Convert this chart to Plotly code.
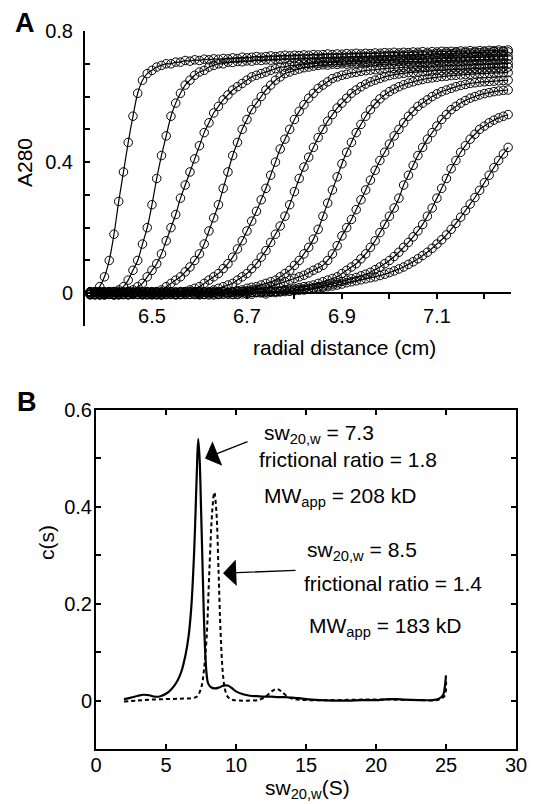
import plotly.graph_objects as go

# page is 535x804; the browser puts the figure 8px in from the top-left corner
PAGE_OFF = 8
W, H = 535 - PAGE_OFF, 804 - PAGE_OFF

# ---- panel A : absorbance scans (A280 vs radius) ----
radius_cm = [
    6.37, 6.38, 6.39, 6.40, 6.41, 6.42, 6.43, 6.44, 6.45, 6.46,
    6.47, 6.48, 6.49, 6.50, 6.51, 6.52, 6.53, 6.54, 6.55, 6.56,
    6.57, 6.58, 6.59, 6.60, 6.61, 6.62, 6.63, 6.64, 6.65, 6.66,
    6.67, 6.68, 6.69, 6.70, 6.71, 6.72, 6.73, 6.74, 6.75, 6.76,
    6.77, 6.78, 6.79, 6.80, 6.81, 6.82, 6.83, 6.84, 6.85, 6.86,
    6.87, 6.88, 6.89, 6.90, 6.91, 6.92, 6.93, 6.94, 6.95, 6.96,
    6.97, 6.98, 6.99, 7.00, 7.01, 7.02, 7.03, 7.04, 7.05, 7.06,
    7.07, 7.08, 7.09, 7.10, 7.11, 7.12, 7.13, 7.14, 7.15, 7.16,
    7.17, 7.18, 7.19, 7.20, 7.21, 7.22, 7.23, 7.24, 7.25,
]

scan_01 = [
    0.004, -0.003, 0.02, 0.05, 0.10, 0.18, 0.28, 0.37, 0.46, 0.54,
    0.61, 0.65, 0.67, 0.68, 0.69, 0.695, 0.70, 0.70, 0.705, 0.705,
    0.71, 0.708, 0.712, 0.71, 0.714, 0.712, 0.715, 0.714, 0.716, 0.715,
    0.718, 0.716, 0.72, 0.718, 0.72, 0.722, 0.72, 0.722, 0.724, 0.722,
    0.724, 0.726, 0.724, 0.726, 0.725, 0.727, 0.726, 0.728, 0.727, 0.728,
    0.73, 0.728, 0.73, 0.729, 0.731, 0.73, 0.732, 0.73, 0.732, 0.731,
    0.733, 0.732, 0.734, 0.733, 0.735, 0.733, 0.735, 0.734, 0.736, 0.735,
    0.737, 0.735, 0.737, 0.736, 0.738, 0.737, 0.738, 0.737, 0.739, 0.738,
    0.74, 0.738, 0.74, 0.739, 0.741, 0.74, 0.742, 0.74, 0.742,
]
scan_02 = [
    0.002, -0.004, 0.005, -0.002, 0.003, -0.005, 0.01, 0.02, 0.04, 0.07,
    0.10, 0.15, 0.20, 0.27, 0.35, 0.42, 0.48, 0.54, 0.58, 0.61,
    0.635, 0.65, 0.665, 0.675, 0.68, 0.69, 0.695, 0.70, 0.70, 0.705,
    0.704, 0.707, 0.706, 0.709, 0.708, 0.711, 0.71, 0.712, 0.711, 0.714,
    0.713, 0.715, 0.714, 0.716, 0.715, 0.717, 0.716, 0.718, 0.717, 0.719,
    0.718, 0.72, 0.719, 0.721, 0.72, 0.722, 0.721, 0.723, 0.722, 0.724,
    0.723, 0.725, 0.724, 0.726, 0.725, 0.727, 0.726, 0.728, 0.727, 0.729,
    0.728, 0.73, 0.729, 0.731, 0.73, 0.732, 0.731, 0.733, 0.732, 0.734,
    0.733, 0.735, 0.734, 0.736, 0.735, 0.737, 0.736, 0.737, 0.736,
]
scan_03 = [
    -0.003, 0.004, -0.005, 0.002, -0.002, 0.005, -0.004, 0.003, 0.006, 0.01,
    0.02, 0.03, 0.05, 0.07, 0.09, 0.12, 0.16, 0.20, 0.24, 0.29,
    0.33, 0.37, 0.41, 0.45, 0.49, 0.52, 0.55, 0.57, 0.59, 0.605,
    0.62, 0.63, 0.64, 0.65, 0.66, 0.665, 0.67, 0.675, 0.68, 0.685,
    0.69, 0.69, 0.695, 0.695, 0.698, 0.70, 0.699, 0.702, 0.701, 0.704,
    0.703, 0.705, 0.704, 0.706, 0.705, 0.707, 0.706, 0.708, 0.707, 0.709,
    0.708, 0.71, 0.709, 0.711, 0.71, 0.712, 0.711, 0.713, 0.712, 0.714,
    0.713, 0.715, 0.714, 0.716, 0.715, 0.717, 0.716, 0.718, 0.717, 0.719,
    0.718, 0.72, 0.719, 0.721, 0.72, 0.722, 0.721, 0.723, 0.722,
]
scan_04 = [
    0.005, -0.002, 0.003, -0.005, 0.004, -0.003, 0.002, -0.004, 0.005, -0.002,
    0.003, -0.003, 0.004, 0.002, 0.005, 0.01, 0.02, 0.03, 0.04, 0.05,
    0.065, 0.08, 0.10, 0.12, 0.15, 0.19, 0.23, 0.27, 0.32, 0.37,
    0.42, 0.46, 0.50, 0.53, 0.56, 0.58, 0.60, 0.62, 0.635, 0.65,
    0.66, 0.67, 0.675, 0.68, 0.684, 0.688, 0.69, 0.693, 0.695, 0.697,
    0.696, 0.699, 0.698, 0.70, 0.699, 0.702, 0.701, 0.703, 0.702, 0.704,
    0.703, 0.705, 0.704, 0.706, 0.705, 0.707, 0.706, 0.707, 0.706, 0.708,
    0.707, 0.709, 0.708, 0.71, 0.709, 0.711, 0.71, 0.712, 0.711, 0.712,
    0.711, 0.713, 0.712, 0.714, 0.713, 0.715, 0.714, 0.715, 0.714,
]
scan_05 = [
    -0.004, 0.003, -0.002, 0.005, -0.003, 0.002, -0.005, 0.004, -0.002, 0.003,
    -0.004, 0.005, -0.003, 0.002, -0.005, 0.004, -0.002, 0.003, -0.003, 0.004,
    0.005, 0.01, 0.015, 0.02, 0.03, 0.04, 0.05, 0.06, 0.075, 0.09,
    0.11, 0.135, 0.16, 0.19, 0.22, 0.25, 0.285, 0.32, 0.36, 0.40,
    0.44, 0.47, 0.50, 0.53, 0.555, 0.575, 0.595, 0.61, 0.625, 0.635,
    0.645, 0.655, 0.66, 0.665, 0.668, 0.672, 0.674, 0.677, 0.679, 0.681,
    0.682, 0.684, 0.685, 0.687, 0.686, 0.688, 0.689, 0.69, 0.69, 0.692,
    0.691, 0.693, 0.692, 0.694, 0.693, 0.695, 0.694, 0.696, 0.695, 0.697,
    0.696, 0.698, 0.697, 0.699, 0.698, 0.70, 0.699, 0.701, 0.70,
]
scan_06 = [
    0.003, -0.005, 0.004, -0.002, 0.002, -0.004, 0.005, -0.003, 0.003, -0.002,
    0.004, -0.005, 0.002, -0.003, 0.005, -0.002, 0.003, -0.004, 0.004, -0.003,
    0.002, -0.004, 0.005, -0.002, 0.003, 0.005, 0.01, 0.015, 0.02, 0.025,
    0.03, 0.04, 0.05, 0.06, 0.075, 0.09, 0.11, 0.13, 0.155, 0.18,
    0.205, 0.235, 0.27, 0.31, 0.35, 0.385, 0.415, 0.445, 0.475, 0.50,
    0.525, 0.545, 0.565, 0.58, 0.595, 0.61, 0.62, 0.63, 0.638, 0.645,
    0.65, 0.655, 0.66, 0.664, 0.667, 0.669, 0.671, 0.673, 0.674, 0.675,
    0.676, 0.677, 0.678, 0.68, 0.679, 0.681, 0.682, 0.683, 0.683, 0.684,
    0.685, 0.686, 0.686, 0.687, 0.688, 0.688, 0.689, 0.69, 0.69,
]
scan_07 = [
    -0.002, 0.004, -0.005, 0.003, -0.003, 0.005, -0.002, 0.002, -0.004, 0.004,
    -0.003, 0.002, -0.005, 0.004, -0.002, 0.003, -0.004, 0.005, -0.003, 0.002,
    -0.004, 0.003, -0.002, 0.004, -0.003, 0.002, 0.005, -0.002, 0.004, 0.003,
    0.005, 0.008, 0.01, 0.015, 0.018, 0.02, 0.025, 0.03, 0.035, 0.04,
    0.05, 0.06, 0.07, 0.085, 0.10, 0.12, 0.14, 0.165, 0.195, 0.235,
    0.275, 0.315, 0.355, 0.395, 0.43, 0.46, 0.49, 0.515, 0.54, 0.56,
    0.578, 0.593, 0.605, 0.615, 0.623, 0.63, 0.636, 0.641, 0.645, 0.649,
    0.652, 0.655, 0.657, 0.659, 0.661, 0.662, 0.664, 0.665, 0.666, 0.667,
    0.668, 0.669, 0.67, 0.67, 0.671, 0.672, 0.672, 0.673, 0.673,
]
scan_08 = [
    0.004, -0.003, 0.002, -0.005, 0.005, -0.002, 0.003, -0.004, 0.002, -0.003,
    0.005, -0.002, 0.004, -0.004, 0.003, -0.005, 0.002, 0.004, -0.003, 0.005,
    -0.002, 0.003, -0.004, 0.005, -0.003, 0.002, -0.005, 0.004, -0.002, 0.003,
    -0.003, 0.005, 0.005, 0.007, 0.01, 0.012, 0.015, 0.017, 0.02, 0.025,
    0.03, 0.035, 0.04, 0.045, 0.05, 0.055, 0.062, 0.07, 0.077, 0.085,
    0.10, 0.12, 0.145, 0.175, 0.20, 0.225, 0.255, 0.285, 0.315, 0.345,
    0.375, 0.405, 0.43, 0.455, 0.48, 0.50, 0.52, 0.54, 0.555, 0.57,
    0.58, 0.59, 0.60, 0.608, 0.615, 0.62, 0.625, 0.63, 0.634, 0.637,
    0.64, 0.642, 0.644, 0.645, 0.646, 0.647, 0.648, 0.649, 0.65,
]
scan_09 = [
    -0.005, 0.003, -0.002, 0.004, -0.003, 0.005, -0.004, 0.002, 0.004, -0.002,
    0.003, -0.004, 0.005, -0.003, 0.002, -0.005, 0.004, -0.002, 0.003, -0.004,
    0.005, -0.003, 0.002, -0.005, 0.004, -0.002, 0.003, -0.004, 0.005, -0.003,
    0.002, -0.004, 0.004, -0.002, 0.003, 0.002, 0.005, 0.003, 0.006, 0.005,
    0.008, 0.01, 0.012, 0.015, 0.017, 0.02, 0.022, 0.025, 0.03, 0.035,
    0.04, 0.045, 0.05, 0.06, 0.07, 0.08, 0.09, 0.105, 0.12, 0.14,
    0.16, 0.185, 0.21, 0.235, 0.26, 0.29, 0.33, 0.36, 0.39, 0.42,
    0.445, 0.47, 0.49, 0.51, 0.53, 0.545, 0.56, 0.57, 0.58, 0.588,
    0.595, 0.60, 0.605, 0.609, 0.612, 0.615, 0.617, 0.619, 0.62,
]
scan_10 = [
    0.003, -0.004, 0.005, -0.002, 0.004, -0.005, 0.002, -0.003, 0.005, -0.004,
    0.002, -0.002, 0.004, -0.005, 0.003, -0.003, 0.005, -0.002, 0.002, -0.004,
    0.004, -0.003, 0.005, -0.002, 0.003, -0.005, 0.002, -0.003, 0.004, -0.002,
    0.003, -0.002, 0.004, -0.003, 0.002, 0.004, 0.001, 0.005, 0.003, 0.006,
    0.005, 0.008, 0.007, 0.01, 0.012, 0.013, 0.015, 0.017, 0.02, 0.022,
    0.025, 0.028, 0.032, 0.036, 0.04, 0.044, 0.048, 0.053, 0.058, 0.064,
    0.072, 0.08, 0.09, 0.10, 0.112, 0.125, 0.14, 0.155, 0.172, 0.19,
    0.21, 0.235, 0.26, 0.29, 0.32, 0.35, 0.38, 0.405, 0.43, 0.45,
    0.47, 0.485, 0.50, 0.51, 0.52, 0.528, 0.535, 0.54, 0.545,
]
scan_11 = [
    -0.002, 0.005, -0.003, 0.002, -0.004, 0.004, -0.002, 0.003, -0.005, 0.002,
    -0.003, 0.004, -0.002, 0.005, -0.004, 0.002, -0.003, 0.004, -0.005, 0.003,
    -0.002, 0.005, -0.003, 0.002, -0.004, 0.003, -0.002, 0.005, -0.003, 0.002,
    -0.004, 0.003, -0.002, 0.004, -0.003, 0.002, 0.003, -0.002, 0.004, 0.002,
    0.004, 0.005, 0.006, 0.008, 0.009, 0.01, 0.012, 0.014, 0.016, 0.018,
    0.02, 0.022, 0.025, 0.028, 0.032, 0.035, 0.038, 0.041, 0.044, 0.047,
    0.05, 0.054, 0.058, 0.063, 0.068, 0.074, 0.08, 0.088, 0.096, 0.105,
    0.115, 0.125, 0.137, 0.15, 0.163, 0.178, 0.195, 0.213, 0.232, 0.252,
    0.272, 0.292, 0.314, 0.337, 0.36, 0.383, 0.405, 0.425, 0.445,
]
scans = [scan_01, scan_02, scan_03, scan_04, scan_05, scan_06,
         scan_07, scan_08, scan_09, scan_10, scan_11]

# ---- panel B : c(s) distributions ----
s_solid = [2.0, 2.5, 3.0, 3.4, 3.8, 4.2, 4.6, 5.0, 5.4, 5.8, 6.1, 6.4, 6.6, 6.8,
           7.0, 7.1, 7.2, 7.3, 7.4, 7.5, 7.6, 7.7, 7.8, 7.9, 8.0, 8.2, 8.5, 8.8,
           9.1, 9.4, 9.7, 10.0, 10.5, 11.0, 11.5, 12.0, 12.5, 13.0, 13.5, 14.0,
           14.5, 15.0, 16.0, 17.0, 18.0, 19.0, 20.0, 20.5, 21.0, 21.5, 22.0,
           23.0, 24.0, 24.5, 24.8, 24.9, 25.0]
c_solid = [0.003, 0.006, 0.010, 0.012, 0.011, 0.008, 0.009, 0.014, 0.024, 0.040,
           0.060, 0.095, 0.13, 0.19, 0.30, 0.38, 0.47, 0.54, 0.50, 0.40, 0.29,
           0.18, 0.10, 0.055, 0.036, 0.028, 0.025, 0.027, 0.031, 0.031, 0.026,
           0.019, 0.013, 0.010, 0.009, 0.008, 0.008, 0.007, 0.007, 0.006, 0.005,
           0.003, 0.001, 0.000, 0.000, 0.001, 0.001, 0.002, 0.003, 0.003, 0.002,
           0.001, 0.001, 0.004, 0.012, 0.025, 0.052]

s_dashed = [2.0, 3.0, 4.0, 5.0, 6.0, 6.8, 7.2, 7.5, 7.7, 7.9, 8.1, 8.3, 8.45,
            8.6, 8.75, 8.9, 9.05, 9.2, 9.4, 9.7, 10.2, 11.0, 11.7, 12.2, 12.6,
            12.9, 13.2, 13.6, 14.0, 15.0, 17.0, 19.0, 21.0, 23.0, 24.5, 24.9, 25.0]
c_dashed = [-0.002, 0.000, 0.002, 0.003, 0.004, 0.005, 0.008, 0.025, 0.06, 0.13,
            0.27, 0.39, 0.43, 0.39, 0.27, 0.14, 0.06, 0.025, 0.008, 0.002, 0.000,
            0.000, 0.002, 0.010, 0.020, 0.024, 0.020, 0.010, 0.004, 0.001, 0.001,
            0.002, 0.002, 0.001, 0.002, 0.010, 0.045]


# page pixel -> paper fraction
def px(x):
    return (x - PAGE_OFF) / W


def py(y):
    return 1 - (y - PAGE_OFF) / H


FONT = "Arial, 'Liberation Sans', sans-serif"

fig = go.Figure()

for scan in scans:
    fig.add_trace(go.Scatter(
        x=radius_cm, y=scan, mode="lines+markers", xaxis="x", yaxis="y",
        line=dict(color="black", width=1.2, shape="spline"),
        marker=dict(symbol="circle-open", size=8.5, color="black", line=dict(width=1)),
        cliponaxis=False, showlegend=False))

fig.add_trace(go.Scatter(
    x=s_solid, y=c_solid, mode="lines", xaxis="x2", yaxis="y2",
    line=dict(color="black", width=2.2, shape="spline"), showlegend=False))
fig.add_trace(go.Scatter(
    x=s_dashed, y=c_dashed, mode="lines", xaxis="x2", yaxis="y2",
    line=dict(color="black", width=2, dash="4px,3px", shape="spline"), showlegend=False))

axis_common = dict(showline=True, linecolor="black", linewidth=2, showgrid=False,
                   zeroline=False, tickcolor="black", tickwidth=1.5, ticklen=5,
                   automargin=False,
                   tickfont=dict(family=FONT, size=20, color="black"))

fig.update_layout(
    width=W, height=H, autosize=False,
    margin=dict(l=0, r=0, t=0, b=0),
    paper_bgcolor="white", plot_bgcolor="white",
    font=dict(family=FONT, size=20, color="black"),
    xaxis=dict(domain=[px(85), px(511)], range=[6.359, 7.256], anchor="free",
               position=py(293), ticks="outside", tick0=6.5, dtick=0.2,
               ticklabelstandoff=0,
               minor=dict(dtick=0.1, tick0=6.5, ticks="outside", ticklen=5,
                          tickwidth=1.5, tickcolor="black"),
               **axis_common),
    yaxis=dict(domain=[py(326), py(31)], range=[-0.1, 0.8], anchor="x",
               ticks="inside", tick0=0, dtick=0.4, ticklabelstandoff=6,
               minor=dict(dtick=0.1, tick0=0, ticks="inside", ticklen=5,
                          tickwidth=1.5, tickcolor="black"),
               **axis_common),
    xaxis2=dict(domain=[px(96), px(516)], range=[0, 30], anchor="y2",
                ticks="inside", tick0=0, dtick=5, mirror="ticks",
                ticklabelstandoff=-3, **axis_common),
    yaxis2=dict(domain=[py(749), py(410)], range=[-0.1, 0.6], anchor="x2",
                ticks="inside", tick0=0, dtick=0.2, mirror="ticks",
                ticklabelstandoff=-2,
                minor=dict(dtick=0.1, tick0=0, ticks="inside", ticklen=5,
                           tickwidth=1.5, tickcolor="black"),
                **axis_common),
)

notes = [
    dict(text="<b>A</b>", x=px(25), y=py(23), size=27, angle=0),
    dict(text="<b>B</b>", x=px(27), y=py(402), size=27, angle=0),
    dict(text="A280", x=px(24), y=py(163), size=21, angle=-90),
    dict(text="radial distance (cm)", x=px(344), y=py(348), size=21, angle=0),
    dict(text="c(s)", x=px(46), y=py(543), size=21, angle=-90),
    dict(text="sw<sub>20,w</sub>(S)", x=px(307), y=py(789), size=21, angle=0),
]
for n in notes:
    fig.add_annotation(text=n["text"], x=n["x"], y=n["y"], xref="paper", yref="paper",
                       showarrow=False, textangle=n["angle"], xanchor="center",
                       yanchor="middle", font=dict(family=FONT, size=n["size"], color="black"))

labels_b = [
    ("sw<sub>20,w</sub> = 7.3", 11.85, 0.550),
    ("frictional ratio = 1.8", 11.5, 0.497),
    ("MW<sub>app</sub> = 208 kD", 11.85, 0.420),
    ("sw<sub>20,w</sub> = 8.5", 14.93, 0.308),
    ("frictional ratio = 1.4", 14.7, 0.242),
    ("MW<sub>app</sub> = 183 kD", 15.1, 0.152),
]
for text, sx, cy in labels_b:
    fig.add_annotation(text=text, x=sx, y=cy, xref="x2", yref="y2", showarrow=False,
                       xanchor="left", yanchor="middle",
                       font=dict(family=FONT, size=21, color="black"))

arrows_b = [
    (7.79, 0.50, 10.93, 0.536),
    (9.07, 0.263, 14.36, 0.269),
]
for tx, ty, tailx, taily in arrows_b:
    fig.add_annotation(x=tx, y=ty, ax=tailx, ay=taily, xref="x2", yref="y2",
                       axref="x2", ayref="y2", text="", showarrow=True,
                       arrowhead=1, arrowsize=3.4, arrowwidth=1.3, arrowcolor="black")

fig.write_html("out.html")
